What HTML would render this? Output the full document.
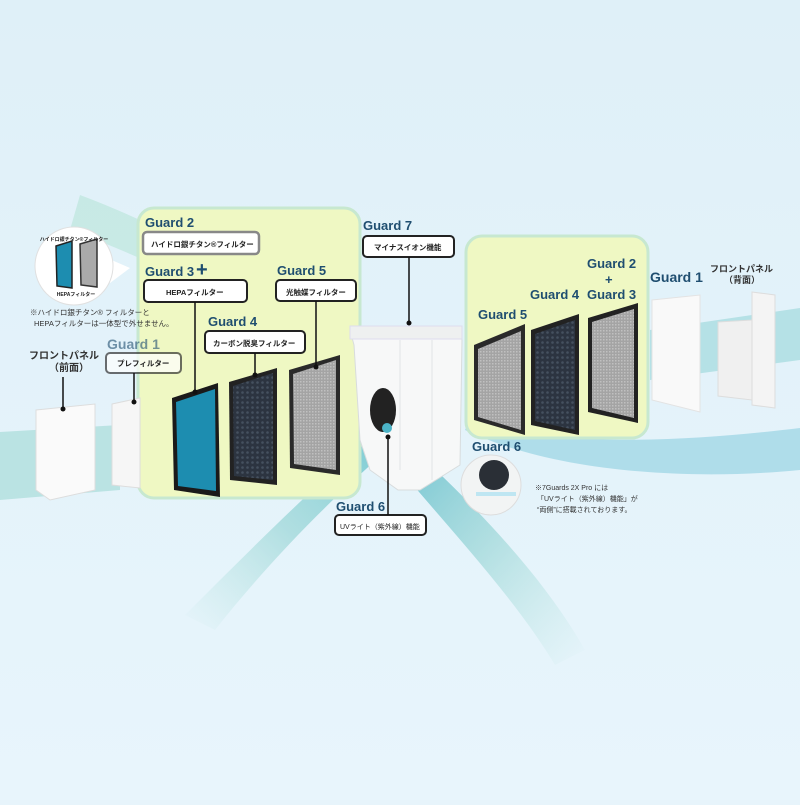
<!DOCTYPE html>
<html><head><meta charset="utf-8">
<style>
html,body{margin:0;padding:0}
body{width:800px;height:800px;overflow:hidden;background:#e7f4fb;font-family:"Liberation Sans","Noto Sans CJK JP",sans-serif}
svg text{font-family:"Liberation Sans","Noto Sans CJK JP",sans-serif}
.g{fill:#1f4e70;font-weight:bold}
.lb{font-size:7.5px;fill:#222;font-weight:bold}
</style></head><body>
<svg width="800" height="800" viewBox="0 0 800 800" xmlns="http://www.w3.org/2000/svg">
<defs>
<linearGradient id="bg" x1="0" y1="0" x2="0" y2="1"><stop offset="0" stop-color="#dff0f8"/><stop offset="1" stop-color="#e8f5fc"/></linearGradient>
<linearGradient id="s1" x1="0" y1="1" x2="1" y2="0"><stop offset="0" stop-color="#9fdccf" stop-opacity="0"/><stop offset="0.5" stop-color="#7ccac8" stop-opacity="0.5"/><stop offset="1" stop-color="#5cc0c9" stop-opacity="0.8"/></linearGradient>
<linearGradient id="s2" x1="1" y1="1" x2="0" y2="0"><stop offset="0" stop-color="#9fdccf" stop-opacity="0"/><stop offset="0.5" stop-color="#7ccac8" stop-opacity="0.5"/><stop offset="1" stop-color="#4bb3c6" stop-opacity="0.85"/></linearGradient>
<pattern id="hex" width="5" height="5" patternUnits="userSpaceOnUse"><rect width="5" height="5" fill="#2c3440"/><circle cx="2.5" cy="2.5" r="1.3" fill="#45515f"/></pattern>
<pattern id="mesh" width="3" height="3" patternUnits="userSpaceOnUse"><rect width="3" height="3" fill="#a4a4a4"/><rect width="1.5" height="1.5" fill="#c0c0c0"/></pattern>
</defs>
<rect width="800" height="800" fill="url(#bg)"/>
<!-- air streams -->
<path d="M0 432 L120 425 L120 490 L0 500 Z" fill="#9fd8d4" opacity="0.6"/>
<path d="M80 195 C200 240 280 300 350 345 L340 360 C260 320 180 270 70 230 Z" fill="#a9e0cc" opacity="0.45"/>
<path d="M160 440 L350 395 L355 420 L165 475 Z" fill="#8fd9a8" opacity="0.5"/>
<path d="M800 308 L650 330 L650 380 L800 360 Z" fill="#8fd3d6" opacity="0.55"/>
<path d="M800 428 C700 440 560 450 470 420 L465 430 C560 475 700 480 800 470 Z" fill="#8ccfdf" opacity="0.6"/>
<path d="M185 615 C250 550 320 480 378 432 L390 448 C335 495 270 560 215 630 Z" fill="url(#s1)"/>
<path d="M392 430 C460 490 540 570 585 650 L555 665 C510 590 440 520 380 445 Z" fill="url(#s2)"/>
<!-- left green panel -->
<rect x="138" y="208" width="222" height="290" rx="16" fill="#eff8c3" stroke="#c7e8d0" stroke-width="3"/>
<!-- right green panel -->
<rect x="466" y="236" width="182" height="202" rx="16" fill="#eff8c3" stroke="#c7e8d0" stroke-width="3"/>
<!-- left front panel -->
<path d="M36 410 L95 404 L95 490 L50 500 L36 490 Z" fill="#fafafa" stroke="#ddd"/>
<path d="M112 404 L140 398 L140 488 L112 485 Z" fill="#f6f6f6" stroke="#ddd"/>
<!-- filters left -->
<path d="M172 398 L218 383 L220 497 L174 490 Z" fill="#1a1a1a"/>
<path d="M176 402 L215 389 L216 491 L178 486 Z" fill="#1d8db0"/>
<path d="M229 382 L277 368 L277 485 L230 480 Z" fill="#222"/>
<path d="M233 386 L273 373 L273 480 L234 476 Z" fill="url(#hex)"/>
<path d="M289 370 L340 355 L340 475 L290 468 Z" fill="#2a2a2a"/>
<path d="M293 374 L336 360 L336 470 L294 464 Z" fill="url(#mesh)"/>
<!-- filters right -->
<path d="M474 345 L525 324 L525 435 L474 420 Z" fill="#2a2a2a"/>
<path d="M478 349 L521 331 L521 430 L478 417 Z" fill="url(#mesh)"/>
<path d="M531 330 L579 314 L579 435 L531 425 Z" fill="#222"/>
<path d="M535 334 L575 320 L575 430 L535 421 Z" fill="url(#hex)"/>
<path d="M588 318 L638 303 L638 423 L588 412 Z" fill="#222"/>
<path d="M592 322 L634 309 L634 418 L592 408 Z" fill="url(#mesh)"/>
<!-- right front panels -->
<path d="M652 300 L700 295 L700 412 L652 400 Z" fill="#f9f9f9" stroke="#e3e3e3"/>
<path d="M718 322 L752 320 L752 400 L718 396 Z" fill="#f0f0f0" stroke="#ddd"/>
<path d="M752 292 L775 295 L775 408 L752 405 Z" fill="#f4f4f4" stroke="#ddd"/>
<!-- purifier -->
<path d="M350 330 L460 326 L462 340 L460 465 L420 490 L398 490 L370 470 L360 440 L354 345 Z" fill="#f7f8f8" stroke="#d8dcdd"/>
<rect x="350" y="326" width="112" height="13" fill="#eef0f0" stroke="#dde"/>
<line x1="400" y1="340" x2="400" y2="470" stroke="#e2e5e6"/>
<line x1="432" y1="340" x2="432" y2="480" stroke="#e2e5e6"/>
<ellipse cx="383" cy="410" rx="13" ry="22" fill="#222"/>
<circle cx="387" cy="428" r="5" fill="#4bb3c6"/>
<!-- guard6 circle -->
<circle cx="491" cy="485" r="30" fill="#f2f4f4" stroke="#ddd"/>
<circle cx="494" cy="475" r="15" fill="#2a2f36"/>
<rect x="476" y="492" width="40" height="4" fill="#bfe6f2"/>
<!-- magnifier circle -->
<path d="M100 255 L130 268 L110 283 Z" fill="#fff"/>
<circle cx="74" cy="266" r="39" fill="#fff" stroke="#e0e0e0"/>
<path d="M56 246 L72 241 L72 288 L57 286 Z" fill="#1d8db0" stroke="#222" stroke-width="1.5"/>
<path d="M80 244 L97 239 L97 287 L81 285 Z" fill="#aaa" stroke="#333" stroke-width="1.5"/>
<text x="74" y="241" font-size="5" text-anchor="middle" font-weight="bold" fill="#222">ハイドロ銀チタン®フィルター</text>
<text x="76" y="296" font-size="5" text-anchor="middle" font-weight="bold" fill="#222">HEPAフィルター</text>
<text x="30" y="315" font-size="7.5" fill="#333">※ハイドロ銀チタン® フィルターと</text>
<text x="34" y="326" font-size="7.5" fill="#333">HEPAフィルターは一体型で外せません。</text>
<!-- labels -->
<text x="29" y="359" font-size="10" font-weight="bold" fill="#333">フロントパネル</text>
<text x="49" y="371" font-size="10" font-weight="bold" fill="#333">（前面）</text>
<line x1="63" y1="377" x2="63" y2="409" stroke="#111" stroke-width="1.5"/><circle cx="63" cy="409" r="2.5" fill="#111"/>
<text x="107" y="349" font-size="14" class="g" opacity="0.6">Guard 1</text>
<rect x="106" y="353" width="75" height="20" rx="4" fill="#fff" opacity="0.7" stroke="#333" stroke-width="2"/>
<text x="117" y="366" class="lb" font-weight="normal">プレフィルター</text>
<line x1="134" y1="373" x2="134" y2="402" stroke="#111" stroke-width="1.5"/><circle cx="134" cy="402" r="2.5" fill="#111"/>

<text x="145" y="227" font-size="13" class="g">Guard 2</text>
<rect x="143" y="232" width="116" height="22" rx="4" fill="#fff" stroke="#888" stroke-width="2.5"/>
<text x="151" y="247" class="lb">ハイドロ銀チタン®フィルター</text>
<text x="145" y="276" font-size="13" class="g">Guard 3</text>
<text x="196" y="276" font-size="20" font-weight="bold" fill="#1f4e70">+</text>
<rect x="144" y="280" width="103" height="22" rx="4" fill="#fff" stroke="#222" stroke-width="2"/>
<text x="166" y="295" class="lb">HEPAフィルター</text>
<line x1="195" y1="302" x2="195" y2="392" stroke="#111" stroke-width="1.5"/><circle cx="195" cy="392" r="2.5" fill="#111"/>
<text x="277" y="275" font-size="13" class="g">Guard 5</text>
<rect x="276" y="280" width="80" height="21" rx="4" fill="#fff" stroke="#222" stroke-width="2"/>
<text x="286" y="295" class="lb" font-weight="normal">光触媒フィルター</text>
<line x1="316" y1="301" x2="316" y2="367" stroke="#111" stroke-width="1.5"/><circle cx="316" cy="367" r="2.5" fill="#111"/>
<text x="208" y="326" font-size="13" class="g">Guard 4</text>
<rect x="205" y="331" width="100" height="22" rx="4" fill="#fff" stroke="#222" stroke-width="2"/>
<text x="213" y="346" class="lb" font-weight="normal">カーボン脱臭フィルター</text>
<line x1="255" y1="353" x2="255" y2="375" stroke="#111" stroke-width="1.5"/><circle cx="255" cy="375" r="2.5" fill="#111"/>

<text x="363" y="230" font-size="13" class="g">Guard 7</text>
<rect x="363" y="236" width="91" height="21" rx="4" fill="#fff" stroke="#222" stroke-width="2"/>
<text x="374" y="250" class="lb" font-weight="normal">マイナスイオン機能</text>
<line x1="409" y1="257" x2="409" y2="323" stroke="#111" stroke-width="1.5"/><circle cx="409" cy="323" r="2.5" fill="#111"/>

<text x="587" y="268" font-size="13" class="g">Guard 2</text>
<text x="605" y="284" font-size="13" class="g">+</text>
<text x="587" y="299" font-size="13" class="g">Guard 3</text>
<text x="530" y="299" font-size="13" class="g">Guard 4</text>
<text x="478" y="319" font-size="13" class="g">Guard 5</text>
<text x="650" y="282" font-size="14" class="g">Guard 1</text>
<text x="710" y="272" font-size="9" font-weight="bold" fill="#333">フロントパネル</text>
<text x="724" y="283" font-size="9" font-weight="bold" fill="#333">（背面）</text>

<text x="472" y="451" font-size="13" class="g">Guard 6</text>
<text x="535" y="490" font-size="7" fill="#333">※7Guards 2X Pro には</text>
<text x="537" y="501" font-size="7" fill="#333">「UVライト（紫外線）機能」が</text>
<text x="537" y="512" font-size="7" fill="#333">“両側”に搭載されております。</text>

<text x="336" y="511" font-size="13" class="g">Guard 6</text>
<rect x="335" y="515" width="91" height="20" rx="4" fill="#fff" stroke="#222" stroke-width="2"/>
<text x="340" y="529" font-size="7" fill="#222">UVライト（紫外線）機能</text>
<line x1="388" y1="515" x2="388" y2="437" stroke="#111" stroke-width="1.5"/><circle cx="388" cy="437" r="2.5" fill="#111"/>
</svg>
</body></html>
